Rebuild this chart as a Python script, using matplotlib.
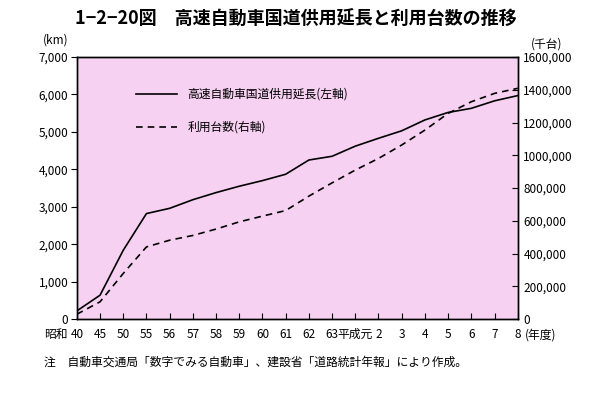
import matplotlib
matplotlib.use("Agg")
import matplotlib.pyplot as plt

plt.rcParams['font.family'] = ['Noto Sans CJK JP', 'DejaVu Sans']

# data
years = ["40", "45", "50", "55", "56", "57", "58", "59", "60", "61", "62", "63",
         "平成元", "2", "3", "4", "5", "6", "7", "8"]
length_km = [220, 640, 1840, 2820, 2960, 3190, 3380, 3550, 3700, 3870, 4250, 4350,
             4620, 4830, 5030, 5320, 5520, 5630, 5830, 5970]
traffic = [30000, 106000, 279000, 441000, 482000, 511000, 550000, 594000, 629000, 663000,
           751000, 832000, 910000, 981000, 1063000, 1154000, 1256000, 1327000, 1378000, 1409000]

left_ticks = [0, 1000, 2000, 3000, 4000, 5000, 6000, 7000]
left_labels = ["0", "1,000", "2,000", "3,000", "4,000", "5,000", "6,000", "7,000"]
right_ticks = [0, 200000, 400000, 600000, 800000, 1000000, 1200000, 1400000, 1600000]
right_labels = ["0", "200,000", "400,000", "600,000", "800,000", "1000,000",
                "1200,000", "1400,000", "1600,000"]

fig = plt.figure(figsize=(5.91, 3.96), dpi=100)
ax = fig.add_axes([0.130, 0.194, 0.746, 0.662])
ax.set_facecolor('#f6d1f2')
x = list(range(len(years)))

l1, = ax.plot(x, length_km, color='black', lw=1.2)
ax.set_xlim(0, len(years) - 1)
ax.set_ylim(0, 7000)
ax.set_yticks(left_ticks)
ax.set_yticklabels(left_labels)
ax.set_xticks(x)
ax.set_xticklabels(years)
ax.tick_params(axis='y', direction='out', length=4, labelsize=8.5, pad=2)
ax.tick_params(axis='x', direction='in', length=4, labelsize=8.5, pad=6.5)

ax2 = ax.twinx()
l2, = ax2.plot(x, traffic, color='black', lw=1.2, linestyle=(0, (4, 3)))
ax2.set_ylim(0, 1600000)
ax2.set_yticks(right_ticks)
ax2.set_yticklabels(right_labels)
ax2.tick_params(axis='y', direction='in', length=4, labelsize=8.5, pad=4)

for a in (ax, ax2):
    for s in a.spines.values():
        s.set_linewidth(1.0)

ax2.legend([l1, l2], ["高速自動車国道供用延長(左軸)", "利用台数(右軸)"],
           loc='upper left', bbox_to_anchor=(0.12, 0.905), frameon=False,
           fontsize=8.5, handlelength=3.5, handletextpad=0.9, labelspacing=1.7,
           borderpad=0)

# era prefix and unit suffix next to the end tick labels
ax.annotate("昭和", xy=(0, 0), xycoords='axes fraction', xytext=(-7, -6.5),
            textcoords='offset points', ha='right', va='top', fontsize=8.5)
ax.annotate("(年度)", xy=(1, 0), xycoords='axes fraction', xytext=(5, -6.5),
            textcoords='offset points', ha='left', va='top', fontsize=8.5)

fig.text(0.5, 0.95, "1−2−20図　高速自動車国道供用延長と利用台数の推移",
         ha='center', va='center', fontsize=13, fontweight='bold')
fig.text(0.095, 0.9, "(km)", ha='center', va='center', fontsize=8.5)
fig.text(0.925, 0.89, "(千台)", ha='center', va='center', fontsize=8.5)
fig.text(0.075, 0.085, "注　自動車交通局「数字でみる自動車」、建設省「道路統計年報」により作成。",
         ha='left', va='center', fontsize=8.5)

fig.savefig("out.png", dpi=100)
